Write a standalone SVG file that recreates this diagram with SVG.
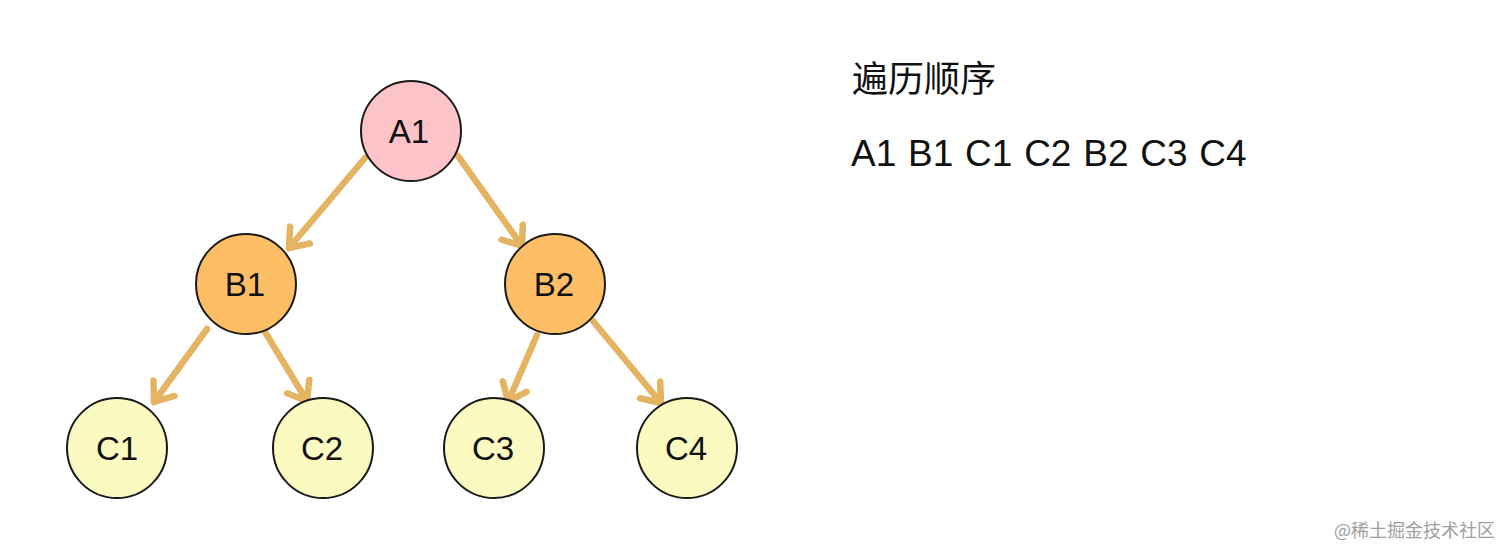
<svg xmlns="http://www.w3.org/2000/svg" width="1512" height="558" viewBox="0 0 1512 558">
<style>
.node circle{stroke:#1a1a1a;stroke-width:2}
.a circle{fill:#FCC3C9}
.b circle{fill:#FDBE66}
.c circle{fill:#FBFAC0}
.node text{font-family:"Liberation Sans",Arial,sans-serif;font-size:33px;fill:#111;text-anchor:middle}
.edge{stroke:#E5B462;stroke-width:6.5;stroke-linecap:round;fill:none}
.title{font-family:"Noto Sans CJK SC","Noto Sans",sans-serif;font-size:36px;fill:#111}
.seq{font-family:"Liberation Sans",Arial,sans-serif;font-size:37px;fill:#111;word-spacing:1.5px}
.wm{font-family:"Noto Sans CJK SC","Liberation Sans",sans-serif;font-size:18px;fill:#A0A0A0}
</style>
<defs>
<marker id="arr" markerUnits="userSpaceOnUse" markerWidth="40" markerHeight="40" viewBox="-20 -20 40 40" refX="0" refY="0" orient="auto">
<path d="M-17,-13 L0,0 L-17,13" fill="none" stroke="#E5B462" stroke-width="6.5" stroke-linecap="round" stroke-linejoin="round"/>
</marker>
</defs>
<rect width="1512" height="558" fill="#ffffff"/>
<g id="connectors">
<line class="edge" x1="365" y1="158" x2="289" y2="248" marker-end="url(#arr)"/>
<line class="edge" x1="458" y1="156" x2="522" y2="246" marker-end="url(#arr)"/>
<line class="edge" x1="207" y1="329" x2="154" y2="402" marker-end="url(#arr)"/>
<line class="edge" x1="265" y1="332" x2="307" y2="401" marker-end="url(#arr)"/>
<line class="edge" x1="537" y1="335" x2="508" y2="402" marker-end="url(#arr)"/>
<line class="edge" x1="593" y1="321" x2="661" y2="403" marker-end="url(#arr)"/>
</g>
<g id="A1" class="node a"><circle cx="411" cy="131" r="50"/><text x="409" y="143">A1</text></g>
<g id="B1" class="node b"><circle cx="246" cy="284" r="50"/><text x="245" y="296">B1</text></g>
<g id="B2" class="node b"><circle cx="555" cy="284" r="50"/><text x="554" y="296">B2</text></g>
<g id="C1" class="node c"><circle cx="117" cy="448" r="50"/><text x="117" y="460">C1</text></g>
<g id="C2" class="node c"><circle cx="323" cy="448" r="50"/><text x="322" y="460">C2</text></g>
<g id="C3" class="node c"><circle cx="494" cy="448" r="50"/><text x="493" y="460">C3</text></g>
<g id="C4" class="node c"><circle cx="687" cy="448" r="50"/><text x="686" y="460">C4</text></g>
<text class="title" x="852" y="92">遍历顺序</text>
<text class="seq" x="851" y="166">A1 B1 C1 C2 B2 C3 C4</text>
<text class="wm" x="1334" y="537">@稀土掘金技术社区</text>
</svg>
